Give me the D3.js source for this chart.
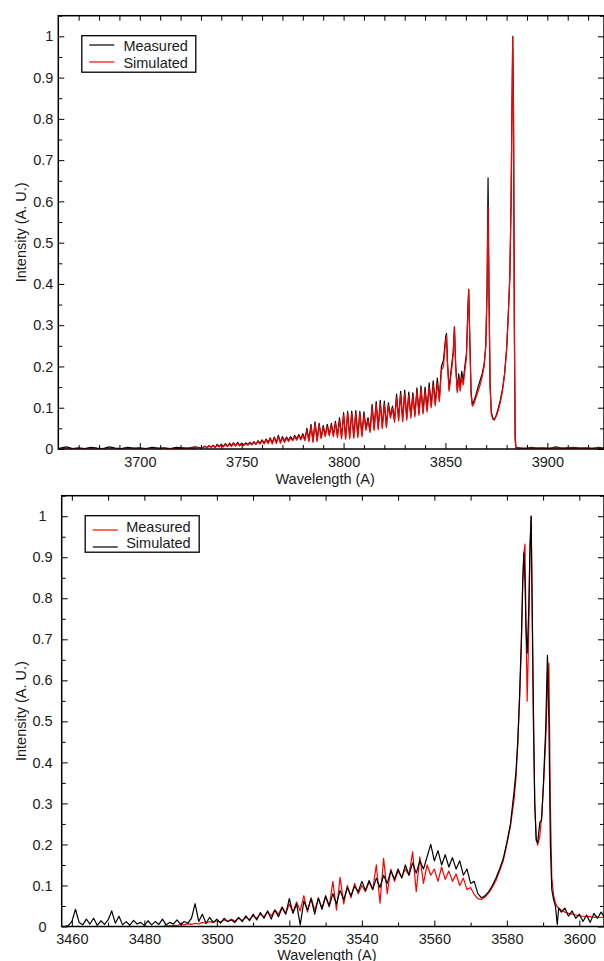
<!DOCTYPE html>
<html>
<head>
<meta charset="utf-8">
<script src="https://cdn.jsdelivr.net/npm/d3@7"></script>
<style>
  body { margin: 0; background: #fff; }
  svg text { font-family: 'Liberation Sans', Arial, Helvetica, sans-serif; font-size: 14.5px; fill: #1a1a1a; }
</style>
</head>
<body>
<div id="chart"></div>
<script>
// ---- Top panel data (band head near 3883 A) ----
const topWavelength = [
  3660, 3661, 3664, 3667, 3670, 3673, 3676, 3679, 3682, 3685,
  3688, 3691, 3694, 3697, 3700, 3703, 3706, 3709, 3712, 3715,
  3718, 3721, 3724, 3727, 3730, 3731, 3732, 3733, 3734, 3735,
  3736, 3737, 3738, 3739, 3740, 3741, 3742, 3743, 3744, 3745,
  3746, 3747, 3748, 3749, 3750, 3751, 3752, 3753, 3754, 3755,
  3756, 3757, 3758, 3759, 3760, 3761, 3762, 3763, 3764, 3765,
  3766, 3767, 3768, 3769, 3770, 3771, 3772, 3773, 3774, 3775,
  3776, 3777, 3778, 3779, 3780, 3781, 3782, 3783, 3784, 3785,
  3786, 3787, 3788, 3789, 3790, 3791, 3792, 3793, 3794, 3795,
  3796, 3797, 3798, 3799, 3800, 3801, 3802, 3803, 3804, 3805,
  3806, 3807, 3808, 3809, 3810, 3811, 3812, 3813, 3814, 3815,
  3816, 3817, 3818, 3819, 3820, 3821, 3822, 3823, 3824, 3825,
  3826, 3827, 3828, 3829, 3830, 3831, 3832, 3833, 3834, 3835,
  3836, 3837, 3838, 3839, 3840, 3841, 3842, 3843, 3844, 3845,
  3846, 3847, 3848, 3849, 3849.6, 3850.1, 3850.5, 3851.0, 3851.8, 3852.5,
  3853.2, 3853.8, 3854.4, 3855.0, 3855.8, 3856.5, 3857.2, 3858.0, 3858.7, 3859.5,
  3860.3, 3861.0, 3861.4, 3862.0, 3862.6, 3863.2, 3864, 3865, 3866, 3867,
  3868, 3869, 3869.8, 3870.4, 3870.9, 3871.4, 3871.9, 3872.5, 3873.2, 3874,
  3875, 3876, 3877, 3878, 3879, 3880, 3880.8, 3881.6, 3882.2, 3882.7,
  3883.0, 3883.4, 3883.8, 3884.2, 3884.6, 3886, 3889, 3892, 3895, 3898,
  3901, 3904, 3907, 3910, 3913, 3916, 3919, 3922, 3925, 3928
];
const topMeasured = [
  0.001, 0.002, 0.005, 0.001, 0.003, 0.001, 0.004, 0.002, 0.001, 0.005,
  0.002, 0.001, 0.004, 0.002, 0.003, 0.001, 0.004, 0.002, 0.003, 0.001,
  0.004, 0.003, 0.002, 0.005, 0.003, 0.004, 0.007, 0.003, 0.008, 0.005,
  0.009, 0.004, 0.011, 0.006, 0.012, 0.006, 0.013, 0.007, 0.014, 0.008,
  0.015, 0.008, 0.016, 0.009, 0.014, 0.010, 0.015, 0.011, 0.016, 0.012,
  0.018, 0.012, 0.020, 0.014, 0.022, 0.014, 0.024, 0.016, 0.027, 0.015,
  0.029, 0.016, 0.033, 0.017, 0.030, 0.019, 0.029, 0.021, 0.030, 0.022,
  0.033, 0.024, 0.035, 0.025, 0.037, 0.023, 0.050, 0.021, 0.060, 0.019,
  0.066, 0.022, 0.062, 0.028, 0.057, 0.033, 0.060, 0.035, 0.062, 0.034,
  0.067, 0.032, 0.076, 0.029, 0.088, 0.028, 0.091, 0.029, 0.092, 0.030,
  0.093, 0.032, 0.091, 0.034, 0.090, 0.050, 0.076, 0.044, 0.108, 0.049,
  0.115, 0.051, 0.118, 0.054, 0.116, 0.056, 0.112, 0.080, 0.104, 0.070,
  0.133, 0.073, 0.140, 0.071, 0.143, 0.075, 0.138, 0.080, 0.136, 0.083,
  0.148, 0.087, 0.153, 0.090, 0.150, 0.095, 0.160, 0.105, 0.165, 0.110,
  0.172, 0.120, 0.200, 0.215, 0.245, 0.272, 0.280, 0.210, 0.145, 0.180,
  0.210, 0.235, 0.296, 0.205, 0.142, 0.182, 0.150, 0.188, 0.162, 0.200,
  0.232, 0.340, 0.387, 0.255, 0.135, 0.108, 0.116, 0.132, 0.150, 0.166,
  0.182, 0.206, 0.252, 0.385, 0.657, 0.365, 0.155, 0.090, 0.076, 0.070,
  0.083, 0.100, 0.120, 0.146, 0.182, 0.242, 0.322, 0.420, 0.600, 0.850,
  1.000, 0.820, 0.310, 0.030, 0.004, 0.003, 0.001, 0.004, 0.002, 0.003,
  0.001, 0.005, 0.002, 0.003, 0.004, 0.002, 0.003, 0.001, 0.004, 0.002
];
const topSimulated = [
  0, 0, 0, 0, 0, 0, 0, 0, 0, 0,
  0, 0, 0, 0, 0, 0, 0, 0, 0, 0.001,
  0.001, 0.001, 0.002, 0.002, 0.003, 0.003, 0.006, 0.003, 0.007, 0.004,
  0.008, 0.004, 0.009, 0.005, 0.010, 0.005, 0.011, 0.006, 0.012, 0.006,
  0.013, 0.007, 0.014, 0.007, 0.012, 0.008, 0.013, 0.009, 0.014, 0.010,
  0.016, 0.011, 0.018, 0.012, 0.020, 0.012, 0.022, 0.013, 0.025, 0.012,
  0.027, 0.013, 0.030, 0.014, 0.027, 0.016, 0.026, 0.018, 0.027, 0.020,
  0.030, 0.021, 0.032, 0.022, 0.034, 0.020, 0.045, 0.018, 0.055, 0.016,
  0.062, 0.018, 0.058, 0.025, 0.052, 0.030, 0.055, 0.032, 0.058, 0.030,
  0.062, 0.028, 0.070, 0.025, 0.082, 0.024, 0.085, 0.025, 0.086, 0.026,
  0.087, 0.028, 0.085, 0.030, 0.084, 0.045, 0.070, 0.040, 0.100, 0.045,
  0.108, 0.047, 0.110, 0.050, 0.108, 0.052, 0.105, 0.075, 0.098, 0.065,
  0.125, 0.068, 0.132, 0.066, 0.135, 0.070, 0.130, 0.075, 0.128, 0.078,
  0.140, 0.082, 0.145, 0.085, 0.140, 0.090, 0.150, 0.100, 0.155, 0.105,
  0.160, 0.115, 0.190, 0.200, 0.235, 0.262, 0.275, 0.200, 0.140, 0.170,
  0.200, 0.230, 0.296, 0.200, 0.137, 0.170, 0.140, 0.175, 0.155, 0.190,
  0.220, 0.330, 0.387, 0.250, 0.130, 0.104, 0.110, 0.125, 0.140, 0.155,
  0.175, 0.200, 0.250, 0.380, 0.588, 0.350, 0.150, 0.085, 0.072, 0.072,
  0.080, 0.095, 0.115, 0.140, 0.180, 0.240, 0.320, 0.420, 0.600, 0.850,
  1.000, 0.800, 0.300, 0.020, 0.002, 0.002, 0.002, 0.002, 0.002, 0.002,
  0.002, 0.002, 0.002, 0.002, 0.002, 0.002, 0.002, 0.002, 0.002, 0.002
];

// ---- Bottom panel data (peaks near 3585-3591 A) ----
const bottomWavelength = [
  3457, 3458, 3459, 3460, 3461, 3462, 3463, 3464, 3465, 3466,
  3467, 3468, 3469, 3470, 3471, 3472, 3473, 3474, 3475, 3476,
  3477, 3478, 3479, 3480, 3481, 3482, 3483, 3484, 3485, 3486,
  3487, 3488, 3489, 3490, 3491, 3492, 3493, 3494, 3495, 3496,
  3497, 3498, 3499, 3500, 3501, 3502, 3503, 3504, 3505, 3506,
  3507, 3508, 3509, 3510, 3511, 3512, 3513, 3514, 3515, 3516,
  3517, 3518, 3519, 3520, 3521, 3522, 3523, 3524, 3525, 3526,
  3527, 3528, 3529, 3530, 3531, 3532, 3533, 3534, 3535, 3536,
  3537, 3538, 3539, 3540, 3541, 3542, 3543, 3544, 3545, 3546,
  3547, 3548, 3549, 3550, 3551, 3552, 3553, 3554, 3555, 3556,
  3557, 3558, 3559, 3560, 3561, 3562, 3563, 3564, 3565, 3566,
  3567, 3568, 3569, 3570, 3571, 3572, 3573, 3574, 3575, 3576,
  3577, 3578, 3579, 3580, 3581, 3582, 3582.5, 3583, 3583.5, 3584,
  3584.4, 3584.7, 3585.0, 3585.3, 3585.6, 3586.0, 3586.4, 3586.7, 3587.0, 3587.3,
  3587.7, 3588.1, 3588.5, 3589.1, 3589.6, 3590.1, 3590.7, 3591.2, 3591.6, 3592.0,
  3592.4, 3592.9, 3593.4, 3593.9, 3594.3, 3595, 3596, 3597, 3598, 3599,
  3600, 3601, 3602, 3603, 3604, 3605, 3606, 3607
];
const bottomMeasured = [
  0, 0, 0, 0, 0, 0, 0, 0, 0, 0,
  0, 0, 0, 0, 0, 0, 0, 0, 0, 0,
  0, 0, 0, 0, 0, 0, 0, 0, 0, 0.002,
  0.001, 0.003, 0.002, 0.005, 0.004, 0.007, 0.005, 0.008, 0.006, 0.010,
  0.008, 0.012, 0.010, 0.014, 0.011, 0.016, 0.012, 0.018, 0.013, 0.020,
  0.015, 0.022, 0.017, 0.026, 0.020, 0.030, 0.024, 0.036, 0.026, 0.040,
  0.030, 0.048, 0.032, 0.055, 0.035, 0.060, 0.038, 0.075, 0.035, 0.070,
  0.040, 0.068, 0.045, 0.072, 0.048, 0.110, 0.040, 0.120, 0.055, 0.100,
  0.070, 0.105, 0.080, 0.100, 0.085, 0.108, 0.090, 0.150, 0.057, 0.166,
  0.080, 0.140, 0.110, 0.135, 0.120, 0.140, 0.125, 0.182, 0.085, 0.170,
  0.105, 0.150, 0.125, 0.140, 0.110, 0.145, 0.115, 0.135, 0.110, 0.128,
  0.100, 0.118, 0.090, 0.095, 0.078, 0.068, 0.066, 0.072, 0.082, 0.095,
  0.112, 0.135, 0.160, 0.200, 0.245, 0.310, 0.360, 0.440, 0.550, 0.680,
  0.840, 0.910, 0.932, 0.720, 0.549, 0.700, 0.920, 1.000, 0.750, 0.500,
  0.300, 0.215, 0.198, 0.220, 0.270, 0.340, 0.450, 0.580, 0.642, 0.300,
  0.120, 0.075, 0.058, 0.048, 0.045, 0.040, 0.035, 0.032, 0.030, 0.028,
  0.026, 0.025, 0.024, 0.024, 0.023, 0.023, 0.022, 0.022
];
const bottomSimulated = [
  0, 0, 0.002, 0.012, 0.042, 0.010, 0.004, 0.018, 0.006, 0.020,
  0.003, 0.014, 0.005, 0.016, 0.038, 0.008, 0.025, 0.004, 0.012, 0.003,
  0.015, 0.006, 0.010, 0.002, 0.014, 0.004, 0.012, 0.005, 0.018, 0.004,
  0.010, 0.006, 0.016, 0.005, 0.012, 0.008, 0.020, 0.056, 0.012, 0.030,
  0.008, 0.022, 0.010, 0.018, 0.008, 0.020, 0.012, 0.016, 0.010, 0.022,
  0.012, 0.026, 0.014, 0.030, 0.016, 0.034, 0.020, 0.038, 0.018, 0.040,
  0.024, 0.046, 0.030, 0.068, 0.032, 0.055, 0.004, 0.062, 0.040, 0.068,
  0.030, 0.070, 0.042, 0.075, 0.050, 0.080, 0.055, 0.088, 0.065, 0.095,
  0.075, 0.098, 0.085, 0.110, 0.088, 0.112, 0.090, 0.118, 0.095, 0.125,
  0.105, 0.135, 0.115, 0.140, 0.118, 0.150, 0.125, 0.155, 0.130, 0.160,
  0.140, 0.170, 0.200, 0.160, 0.185, 0.150, 0.175, 0.145, 0.168, 0.140,
  0.160, 0.125, 0.140, 0.105, 0.110, 0.080, 0.070, 0.075, 0.085, 0.100,
  0.118, 0.140, 0.165, 0.205, 0.250, 0.330, 0.375, 0.450, 0.560, 0.700,
  0.850, 0.911, 0.840, 0.720, 0.666, 0.760, 0.930, 1.000, 0.780, 0.550,
  0.300, 0.210, 0.205, 0.254, 0.260, 0.350, 0.480, 0.661, 0.500, 0.200,
  0.090, 0.065, 0.050, 0.005, 0.045, 0.035, 0.045, 0.025, 0.038, 0.020,
  0.030, 0.012, 0.028, 0.010, 0.032, 0.020, 0.035, 0.022
];

// ---- Tick values ----
const yMajor = [0, 0.1, 0.2, 0.3, 0.4, 0.5, 0.6, 0.7, 0.8, 0.9, 1];
const yMinor = [0.05, 0.15, 0.25, 0.35, 0.45, 0.55, 0.65, 0.75, 0.85, 0.95, 1.05];
const yLabels = ['0', '0.1', '0.2', '0.3', '0.4', '0.5', '0.6', '0.7', '0.8', '0.9', '1'];
const topXMajor = [3700, 3750, 3800, 3850, 3900];
const topXMinor = [3670, 3680, 3690, 3710, 3720, 3730, 3740, 3760, 3770, 3780, 3790,
  3810, 3820, 3830, 3840, 3860, 3870, 3880, 3890, 3910, 3920];
const bottomXMajor = [3460, 3480, 3500, 3520, 3540, 3560, 3580, 3600];
const bottomXMinor = [3470, 3490, 3510, 3530, 3550, 3570, 3590];

if (topMeasured.length !== topWavelength.length || topSimulated.length !== topWavelength.length ||
    bottomMeasured.length !== bottomWavelength.length || bottomSimulated.length !== bottomWavelength.length) {
  throw new Error('length mismatch ' + [topWavelength.length, topMeasured.length, topSimulated.length,
    bottomWavelength.length, bottomMeasured.length, bottomSimulated.length].join(','));
}

const width = 604, height = 961;
const svg = d3.select('#chart').append('svg')
  .attr('width', width)
  .attr('height', height);

function drawPanel(p) {
  const x = d3.scaleLinear().domain(p.xDomain).range([p.left, p.right]);
  const y = d3.scaleLinear().domain([0, 1.05]).range([p.bottom, p.top]);
  const g = svg.append('g').attr('class', 'panel-' + p.id);

  g.append('clipPath')
    .attr('id', 'clip-' + p.id)
    .append('rect')
    .attr('x', p.left)
    .attr('y', p.top)
    .attr('width', p.right - p.left)
    .attr('height', p.bottom - p.top);

  const line = d3.line()
    .x((d, i) => x(p.wavelength[i]))
    .y(d => y(d));

  p.series.forEach(s => {
    g.append('path')
      .datum(s.values)
      .attr('clip-path', `url(#clip-${p.id})`)
      .attr('fill', 'none')
      .attr('stroke', s.color)
      .attr('stroke-width', 1.2)
      .attr('stroke-linejoin', 'round')
      .attr('d', line);
  });

  const clean = sel => {
    sel.attr('font-size', null).attr('font-family', null);
    sel.select('.domain').remove();
    sel.selectAll('.tick line').attr('stroke', '#000').attr('stroke-width', 1);
  };

  // bottom axis, ticks pointing in
  g.append('g')
    .attr('transform', `translate(0, ${p.bottom})`)
    .call(d3.axisBottom(x).tickValues(p.xMinor).tickSize(-4).tickFormat(''))
    .call(clean);
  g.append('g')
    .attr('transform', `translate(0, ${p.bottom})`)
    .call(d3.axisBottom(x).tickValues(p.xMajor).tickSize(-6).tickPadding(p.xPad).tickFormat(d3.format('d')))
    .call(clean);

  // top axis
  g.append('g')
    .attr('transform', `translate(0, ${p.top})`)
    .call(d3.axisTop(x).tickValues(p.xMajor.concat(p.xMinor)).tickSize(-5).tickFormat(''))
    .call(clean);

  // left axis
  g.append('g')
    .attr('transform', `translate(${p.left}, 0)`)
    .call(d3.axisLeft(y).tickValues(yMinor).tickSize(-4).tickFormat(''))
    .call(clean);
  const yAxis = g.append('g')
    .attr('transform', `translate(${p.left}, 0)`)
    .call(d3.axisLeft(y).tickValues(yMajor).tickSize(-6).tickPadding(5)
      .tickFormat((d, i) => yLabels[i]))
    .call(clean);
  if (p.yLabelCenter) {
    yAxis.selectAll('.tick text')
      .attr('text-anchor', 'middle')
      .attr('x', p.yLabelCenter - p.left);
  }

  // right axis
  g.append('g')
    .attr('transform', `translate(${p.right}, 0)`)
    .call(d3.axisRight(y).tickValues(yMinor).tickSize(-4).tickFormat(''))
    .call(clean);
  g.append('g')
    .attr('transform', `translate(${p.right}, 0)`)
    .call(d3.axisRight(y).tickValues(yMajor).tickSize(-6).tickFormat(''))
    .call(clean);

  // frame
  g.append('rect')
    .attr('x', p.left)
    .attr('y', p.top)
    .attr('width', p.right - p.left)
    .attr('height', p.bottom - p.top)
    .attr('fill', 'none')
    .attr('stroke', '#000')
    .attr('stroke-width', 1.5);

  // axis titles
  g.append('text')
    .attr('x', (p.left + p.right) / 2 - 6)
    .attr('y', p.bottom + p.titlePad)
    .attr('text-anchor', 'middle')
    .text('Wavelength (A)');

  g.append('text')
    .attr('transform', `translate(26, ${(p.top + p.bottom) / 2}) rotate(-90)`)
    .attr('text-anchor', 'middle')
    .text('Intensity (A. U.)');

  // legend
  const lg = g.append('g')
    .attr('transform', `translate(${p.left + 23.5}, ${p.top + 20})`);
  lg.append('rect')
    .attr('width', 114)
    .attr('height', 36.5)
    .attr('fill', '#fff')
    .attr('stroke', '#000')
    .attr('stroke-width', 1.3);
  p.legend.forEach((item, i) => {
    lg.append('line')
      .attr('x1', 7.5).attr('x2', 32.5)
      .attr('y1', item.lineY).attr('y2', item.lineY)
      .attr('stroke', item.color)
      .attr('stroke-width', 1.2);
    lg.append('text')
      .attr('x', p.legendTextX)
      .attr('y', item.textY)
      .text(item.name);
  });
}

drawPanel({
  id: 'top',
  left: 58.3, right: 604, top: 15.7, bottom: 449,
  xDomain: [3660, 3927.8],
  xMajor: topXMajor, xMinor: topXMinor, xPad: 8, titlePad: 34.5,
  wavelength: topWavelength,
  series: [
    { values: topMeasured, color: '#000' },
    { values: topSimulated, color: '#ff0000' }
  ],
  legendTextX: 41.6,
  legend: [
    { name: 'Measured', color: '#000', lineY: 9.3, textY: 15.5 },
    { name: 'Simulated', color: '#ff0000', lineY: 26.3, textY: 32.3 }
  ]
});

drawPanel({
  id: 'bottom',
  left: 61.7, right: 604, top: 495.7, bottom: 926.5,
  xDomain: [3457.2, 3606.8],
  xMajor: bottomXMajor, xMinor: bottomXMinor, xPad: 7, titlePad: 33,
  yLabelCenter: 42.5,
  wavelength: bottomWavelength,
  series: [
    { values: bottomMeasured, color: '#ff0000' },
    { values: bottomSimulated, color: '#000' }
  ],
  legendTextX: 41,
  legend: [
    { name: 'Measured', color: '#ff0000', lineY: 14.3, textY: 16.3 },
    { name: 'Simulated', color: '#000', lineY: 31.3, textY: 32.3 }
  ]
});
</script>
</body>
</html>
